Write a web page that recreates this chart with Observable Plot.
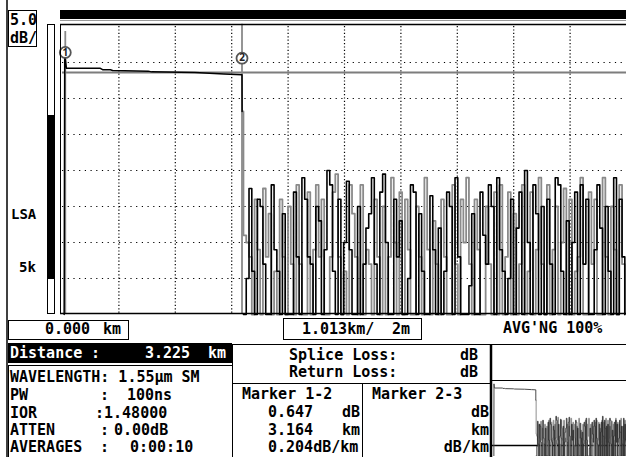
<!DOCTYPE html>
<html><head><meta charset="utf-8">
<script src="https://cdn.jsdelivr.net/npm/d3@7"></script>
<script src="https://cdn.jsdelivr.net/npm/@observablehq/plot@0.6"></script>
<style>
body{margin:0;background:#fff}
#wrap{position:relative;width:626px;height:457px;overflow:hidden}
#mini{position:absolute;left:492px;top:376px;width:134px;height:81px;overflow:hidden}
</style></head><body><div id="wrap"><div id="mini"></div></div>
<script>
// ---- data ----
const gridKm = [1.013, 2.026, 3.039, 4.052, 5.065, 6.078, 7.091, 8.104, 9.117];
const gridDb = [5, 10, 15, 20, 25, 30, 35];
const traceKm = [0.03, 0.04, 0.07, 0.68, 0.72, 0.86, 0.90, 1.54, 1.60, 2.38, 2.90, 3.224, 3.226];
const traceDb = [0, 36.3, 34.2, 34.2, 34.0, 34.0, 33.9, 33.8, 33.7, 33.6, 33.4, 33.3, 28.2];
const noiseStartKm = 3.25, noiseStepKm = 0.05;
const noiseBlackDb = [
  0, 5, 17.5, 6, 0, 16, 15, 7, 0, 0,
  18, 9, 6, 0, 14, 0, 0, 0, 17, 8,
  0, 19, 16, 8, 7, 0, 15, 13, 0, 9,
  20, 18, 6, 0, 16, 0, 10, 18.5, 9, 0,
  0, 15, 0, 7, 12, 14, 19, 7, 0, 17,
  19.5, 10, 0, 0, 16, 8, 13, 0, 0, 5,
  18, 17, 0, 14, 6, 0, 0, 16.5, 9, 0,
  12, 0, 6, 17, 15, 0, 19, 8, 0, 0,
  0, 4, 14, 0, 0, 17, 11, 7, 18, 15,
  0, 19, 9, 6, 0, 5, 16, 0, 12, 17,
  0, 20, 10, 0, 18, 14, 0, 15, 0, 16,
  7, 0, 19, 18, 6, 0, 13, 0, 10, 17,
  0, 18, 7, 16, 0, 0, 9, 18, 12, 0,
  15, 6, 0, 19, 0, 16, 8, 0];
const greyStartKm = 3.226, greyStartDb = 28.2;
const noiseGreyDb = [
  11, 10, 8, 0, 16, 9, 0, 17.5, 8, 14,
  0, 6, 0, 16, 8, 0, 15, 7, 0, 18,
  7, 0, 0, 17, 0, 9, 18, 8, 16, 0,
  0, 8, 17, 19.5, 8, 0, 6, 0, 18, 14,
  8, 0, 18, 0, 9, 7, 0, 16, 8, 0,
  15, 0, 8, 19, 10, 0, 17, 0, 16, 9,
  0, 0, 15, 8, 0, 19, 9, 0, 13, 7,
  0, 16, 8, 0, 0, 18, 7, 0, 16, 10,
  19, 7, 0, 16, 9, 0, 0, 15, 7, 0,
  17, 0, 18, 0, 8, 17, 0, 14, 0, 7,
  18, 0, 6, 17, 0, 9, 19, 7, 0, 18,
  0, 9, 15, 0, 10, 17.5, 0, 16, 0, 6,
  8, 19, 0, 0, 17, 7, 16, 0, 0, 19,
  8, 0, 15, 9, 0, 18, 7, 0];
const markerKm = [0.05, 3.224];
const markerDb = [36.4, 35.6];
const markerTop = [39.3, 40.3];
const markerLabel = ["1", "2"];
const cursorDb = 33.6;

// ---- tables ----
const flat = traceKm.map((km, i) => ({km, db: traceDb[i]}));
const black = noiseBlackDb.map((db, i) => ({km: noiseStartKm + i * noiseStepKm, db}));
const grey = [{km: greyStartKm, db: greyStartDb}].concat(noiseGreyDb.map((db, i) => ({km: noiseStartKm + i * noiseStepKm, db})));
const markers = markerKm.map((km, i) => ({km, db: markerDb[i], top: markerTop[i], label: markerLabel[i]}));

const main = Plot.plot({
  width: 626, height: 457,
  marginLeft: 62, marginRight: 0, marginTop: 26, marginBottom: 143,
  x: {domain: [0, 10.13], axis: null},
  y: {domain: [0, 40], axis: null},
  marks: [
    Plot.ruleX(gridKm, {stroke: "#000", strokeWidth: 1.2, strokeDasharray: "1.2,2.2"}),
    Plot.ruleY(gridDb, {stroke: "#000", strokeWidth: 1.2, strokeDasharray: "1.2,4.5"}),
    Plot.ruleY([cursorDb], {stroke: "#7d7d7d", strokeWidth: 2}),
    Plot.ruleX(markers, {x: "km", y1: 0, y2: "top", stroke: "#8a8a8a", strokeWidth: 1.8}),
    Plot.line(grey, {x: "km", y: "db", curve: "step-after", stroke: "#8a8a8a", strokeWidth: 1.8}),
    Plot.line(black, {x: "km", y: "db", curve: "step-after", stroke: "#000", strokeWidth: 1.6}),
    Plot.line(flat, {x: "km", y: "db", stroke: "#000", strokeWidth: 1.5}),
    Plot.dot(markers, {x: "km", y: "db", r: 5.5, fill: "white", stroke: "#555", strokeWidth: 1.8}),
    Plot.text(markers, {x: "km", y: "db", text: "label", fontSize: 10, fontWeight: "bold", fill: "#222"})
  ]
});

const wrap = document.getElementById("wrap");
wrap.insertBefore(main, wrap.firstChild);

// ---- instrument chrome ----
const g = d3.select(main).append("g")
  .attr("font-family", "'DejaVu Sans Mono', monospace")
  .attr("font-weight", "bold").attr("font-size", 15);
function ln(x1, y1, x2, y2, w = 1, c = "#000") {
  g.append("line").attr("x1", x1).attr("y1", y1).attr("x2", x2).attr("y2", y2)
    .attr("stroke", c).attr("stroke-width", w);
}
function rc(x, y, w, h, fill, stroke, sw = 1) {
  g.append("rect").attr("x", x).attr("y", y).attr("width", w).attr("height", h)
    .attr("fill", fill).attr("stroke", stroke || "none").attr("stroke-width", sw);
}
function tx(x, y, s, opt = {}) {
  g.append("text").attr("x", x).attr("y", y).text(s)
    .attr("fill", opt.fill || "#000").attr("text-anchor", opt.anchor || "start")
    .attr("font-size", opt.size || 15);
}
ln(7, 0, 7, 457, 1.5);
rc(8.5, 10.5, 28, 36, "white", "#000", 1);
tx(10, 25, "5.0"); tx(10, 43, "dB/");
rc(60, 10, 566, 9, "#000");
ln(60, 20.5, 626, 20.5, 1, "#999");
ln(60, 24.5, 626, 24.5, 1.5);
ln(60.5, 24, 60.5, 314, 1);
ln(60, 313.5, 626, 313.5, 1.5);
rc(47.5, 24.5, 7, 289, "white", "#000", 1);
rc(48, 115, 6, 164, "#000");
tx(11, 219, "LSA", {size: 14});
tx(19, 272, "5k", {size: 14});

rc(8.5, 320.5, 120, 19, "white", "#000", 1);
tx(45, 334, "0.000"); tx(103, 334, "km");
rc(283.5, 318.5, 138, 21, "white", "#000", 1);
tx(302, 334, "1.013km/"); tx(392, 334, "2m");
tx(503, 333, "AVG'NG 100%");

rc(8, 343, 224, 20, "#000");
tx(10, 357.5, "Distance", {fill: "white"});
tx(91, 357.5, ":", {fill: "white"});
tx(145, 357.5, "3.225", {fill: "white"});
tx(208, 357.5, "km", {fill: "white"});

ln(8.5, 365, 8.5, 457, 1);
ln(8, 365.5, 232, 365.5, 1);
tx(10, 382, "WAVELENGTH: 1.55\u03bcm SM");
tx(10, 399.5, "PW"); tx(100, 399.5, ":"); tx(127, 399.5, "100ns");
tx(10, 418, "IOR"); tx(95, 418, ":1.48000");
tx(10, 435, "ATTEN"); tx(100, 435, ":"); tx(114, 435, "0.00dB");
tx(10, 452, "AVERAGES"); tx(100, 452, ":"); tx(130, 452, "0:00:10");

ln(232.5, 344, 232.5, 457, 1);
ln(232, 344.5, 626, 344.5, 1);
ln(232, 383.5, 491, 383.5, 1);
ln(362.5, 383, 362.5, 457, 1);
ln(491, 344, 491, 457, 2.5);
ln(491, 380.5, 626, 380.5, 1);
tx(289, 360, "Splice Loss:"); tx(478, 360, "dB", {anchor: "end"});
tx(289, 377, "Return Loss:"); tx(478, 377, "dB", {anchor: "end"});
tx(242, 399, "Marker 1-2");
tx(268, 417, "0.647"); tx(342, 417, "dB");
tx(268, 435, "3.164"); tx(342, 435, "km");
tx(268, 452, "0.204dB/km");
tx(372, 399, "Marker 2-3");
tx(489, 417, "dB", {anchor: "end"});
tx(489, 435, "km", {anchor: "end"});
tx(489, 452, "dB/km", {anchor: "end"});
ln(491, 445.5, 626, 445.5, 1.5);

// ---- overview (mini) trace ----
const mini = Plot.plot({
  width: 138, height: 82, margin: 0, marginLeft: 1,
  x: {domain: [0, 10.13], axis: null},
  y: {domain: [0, 40], axis: null},
  style: {background: "transparent"},
  marks: [
    Plot.line(grey, {x: "km", y: "db", curve: "step-after", stroke: "#8a8a8a", strokeWidth: 1}),
    Plot.line(black, {x: "km", y: "db", curve: "step-after", stroke: "#222", strokeWidth: 0.8}),
    Plot.line(flat, {x: "km", y: "db", stroke: "#444", strokeWidth: 1})
  ]
});
document.getElementById("mini").appendChild(mini);
</script></body></html>
